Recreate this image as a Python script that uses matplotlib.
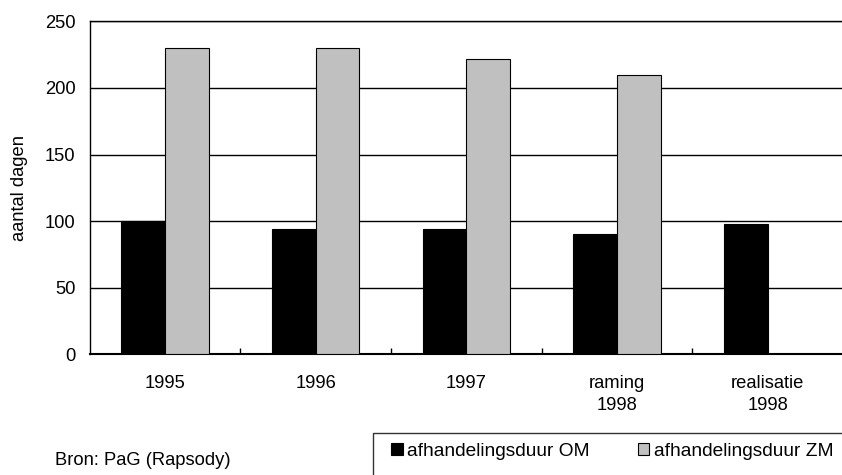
import matplotlib
matplotlib.use("Agg")
import matplotlib.pyplot as plt
from matplotlib.patches import Rectangle, Patch
import numpy as np

categories = ["1995", "1996", "1997", "raming\n1998", "realisatie\n1998"]
om_values = [100, 94, 94, 90, 98]
zm_values = [230, 230, 222, 210, np.nan]
series_names = ["afhandelingsduur OM", "afhandelingsduur ZM"]
y_ticks = [0, 50, 100, 150, 200, 250]

plt.rcParams["font.family"] = ["Liberation Sans", "DejaVu Sans"]
FS = 13.2
FS_LEG = 13.8

W, H = 842, 475
fig = plt.figure(figsize=(W / 100, H / 100), dpi=100)
ax_left, ax_top, ax_bottom = 89.5, 21.3, 354.3
ax = fig.add_axes([ax_left / W, 1 - ax_bottom / H, (W - ax_left + 1) / W, (ax_bottom - ax_top) / H])

x = np.arange(len(categories))
bw = 0.29
ax.bar(x - bw / 2, om_values, width=bw, color="black", edgecolor="black", linewidth=0.8, zorder=3)
ax.bar(x + bw / 2, zm_values, width=bw, color="#C0C0C0", edgecolor="black", linewidth=0.8, zorder=3)

ax.set_ylim(0, 250)
ax.set_xlim(-0.5, len(categories) - 0.5)
ax.set_yticks(y_ticks)
ax.set_yticklabels([str(v) for v in y_ticks], fontsize=FS)
ax.yaxis.grid(True, color="black", linewidth=1.0, zorder=1)
ax.set_axisbelow(True)

ax.set_xticks(x)
ax.set_xticklabels(categories, fontsize=FS, linespacing=1.4)
ax.tick_params(axis="x", which="major", length=0, pad=15)
ax.set_xticks(np.arange(0.5, len(categories) - 0.5, 1.0), minor=True)
ax.tick_params(axis="x", which="minor", direction="in", length=4, width=1, color="black")
ax.tick_params(axis="y", length=0, pad=10)

for s in ["left", "top", "bottom"]:
    ax.spines[s].set_color("black")
    ax.spines[s].set_linewidth(1.0)
ax.spines["right"].set_visible(False)
ax.spines["bottom"].set_linewidth(1.5)

ax.set_ylabel("aantal dagen", fontsize=FS)
ax.yaxis.set_label_coords((28 - ax_left) / (W - ax_left), 0.5)

fig.text(55 / W, 1 - 465 / H, "Bron: PaG (Rapsody)", fontsize=FS, va="baseline", ha="left")

fig.patches.append(Rectangle((373.3 / W, -0.1), 1.0, 0.1 + 1 - 433.3 / H,
                             transform=fig.transFigure, facecolor="white",
                             edgecolor="#333333", linewidth=1.0))

handles = [Patch(facecolor="black", edgecolor="black", linewidth=0.8),
           Patch(facecolor="#C0C0C0", edgecolor="black", linewidth=0.8)]
fig.legend(handles, series_names, ncol=2, loc="center left",
           bbox_to_anchor=(391 / W, 1 - 451 / H), frameon=False, fontsize=FS_LEG,
           handlelength=0.6, handleheight=0.6, handletextpad=0.25,
           columnspacing=2.5, borderpad=0, borderaxespad=0)

fig.savefig("out.png", dpi=100)
